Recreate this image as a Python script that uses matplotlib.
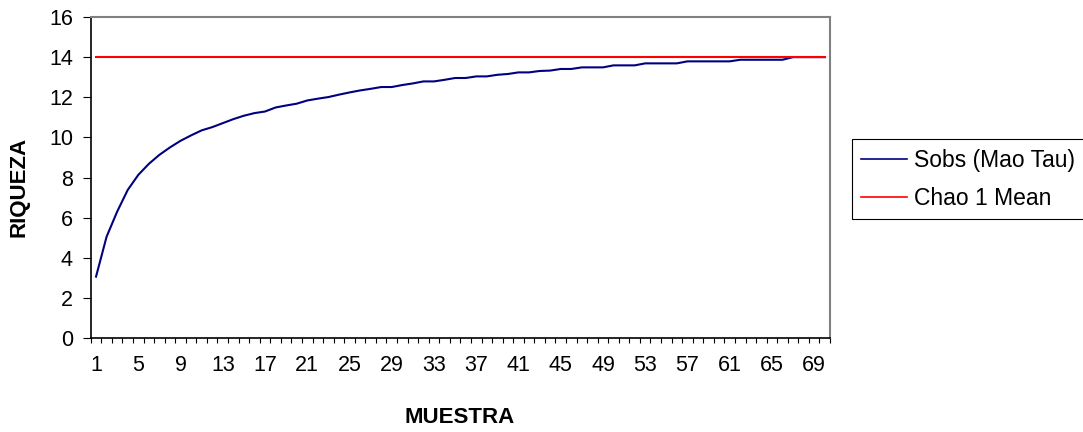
"""
Curva de acumulación de especies: Sobs (Mao Tau) frente a Chao 1.
"""

import numpy as np
from matplotlib import pyplot as plt
from matplotlib.ticker import FixedLocator, NullFormatter

plt.rcParams['font.family'] = ['Liberation Sans', 'DejaVu Sans']

muestras = np.arange(1, 71)

sobs_mao_tau = [
    3.06, 5.05, 6.30, 7.38, 8.13, 8.68, 9.13, 9.50, 9.83, 10.10,
    10.35, 10.51, 10.71, 10.91, 11.08, 11.21, 11.29, 11.49, 11.59, 11.68,
    11.84, 11.93, 12.01, 12.13, 12.24, 12.34, 12.42, 12.51, 12.51, 12.61,
    12.69, 12.79, 12.79, 12.87, 12.96, 12.96, 13.04, 13.04, 13.12, 13.16,
    13.24, 13.24, 13.31, 13.33, 13.41, 13.41, 13.49, 13.49, 13.49, 13.59,
    13.59, 13.59, 13.69, 13.69, 13.69, 13.69, 13.79, 13.79, 13.79, 13.79,
    13.79, 13.87, 13.87, 13.87, 13.87, 13.87, 14.00, 14.00, 14.00, 14.00,
]

chao1_mean = [14.0] * 70

etiquetas_x = list(range(1, 71, 4))
etiquetas_y = list(range(0, 17, 2))


def main():
    fig = plt.figure(figsize=(10.83, 4.32), dpi=100)
    ax = fig.add_axes([0.0838, 0.2176, 0.6826, 0.743])

    ax.plot(muestras, sobs_mao_tau, color='#000080', linewidth=1.5, label='Sobs (Mao Tau)')
    ax.plot(muestras, chao1_mean, color='#ff0000', linewidth=1.5, label='Chao 1 Mean')

    ax.set_xlim(0.5, 70.5)
    ax.set_ylim(0, 16)

    # marcas entre categorías, etiquetas cada 4 muestras
    ax.xaxis.set_major_locator(FixedLocator(np.arange(0.5, 71, 1)))
    ax.xaxis.set_major_formatter(NullFormatter())
    ax.set_xticks(etiquetas_x, [str(v) for v in etiquetas_x], minor=True)
    ax.tick_params(axis='x', which='major', direction='out', length=3.6, width=0.8, color='black')
    ax.tick_params(axis='x', which='minor', length=0, pad=12, labelsize=15.5)

    ax.set_yticks(etiquetas_y)
    ax.tick_params(axis='y', direction='out', length=5.8, width=0.8, pad=7, labelsize=15.5)

    for side in ('top', 'right'):
        ax.spines[side].set_color('#808080')
        ax.spines[side].set_linewidth(1.5)
    for side in ('left', 'bottom'):
        ax.spines[side].set_color('black')
        ax.spines[side].set_linewidth(1.2)

    fig.text(0.4246, 0.0208, 'MUESTRA', ha='center', va='baseline',
             fontsize=16, fontweight='bold')
    fig.text(0.0175, 0.567, 'RIQUEZA', ha='center', va='center', rotation=90,
             fontsize=16, fontweight='bold')

    leg = ax.legend(loc='upper left', bbox_to_anchor=(0.7864, 0.6775),
                    bbox_transform=fig.transFigure, borderaxespad=0,
                    fontsize=16.5, handlelength=2.0, handletextpad=0.3,
                    labelspacing=0.65, borderpad=0.42, fancybox=False,
                    framealpha=1)
    leg.get_frame().set_edgecolor('black')
    leg.get_frame().set_linewidth(0.8)
    for line in leg.get_lines():
        line.set_linewidth(1.2)

    fig.savefig('out.png', dpi=100)


if __name__ == '__main__':
    main()
